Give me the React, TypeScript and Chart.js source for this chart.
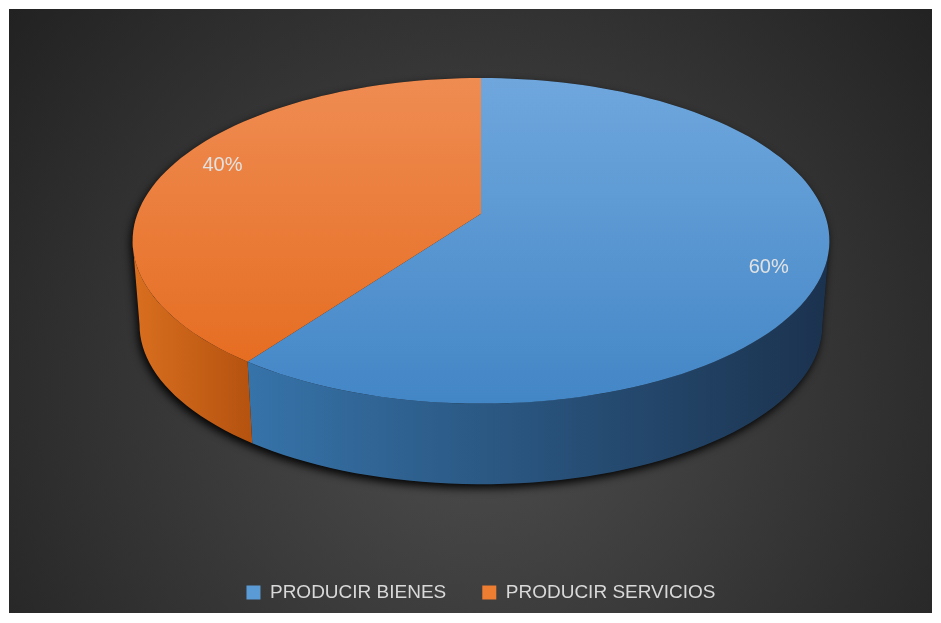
import React, { useEffect, useRef } from "react";
import { Chart, registerables } from "chart.js";
Chart.register(...registerables);

const categories = ["PRODUCIR BIENES", "PRODUCIR SERVICIOS"];
const values = [60, 40];
const valueLabels = ["60%", "40%"];
const legendColors = ["#5b9bd5", "#ed7d31"];
const topLight = ["#6fa7dd", "#ef8c52"];
const topDark = ["#4386c6", "#e4691b"];
const wallLeft = ["#3673a9", "#d96f1f"];
const wallRight = ["#1b324e", "#b4520f"];

// 3D view parameters (relative to the library's pie radius)
const PERSP = 0.1667;
const SX_R = 1.465;
const SY_R = 0.675;
const DEPTH_R = 0.36;
const BOTTOM_SCALE = 0.98;
const LABEL_F = 0.855;
const LABEL_TURN = 0.07;

const pie3d = {
  id: "pie3d",
  beforeDraw(chart: any) {
    const { ctx, width, height } = chart;
    ctx.save();
    ctx.fillStyle = "#ffffff";
    ctx.fillRect(0, 0, width, height);
    const g = ctx.createRadialGradient(470, 380, 0, 470, 380, 640);
    g.addColorStop(0, "#4e4e4e");
    g.addColorStop(1, "#1f1f1f");
    ctx.fillStyle = g;
    ctx.fillRect(1, 1, width - 2, height - 3);
    ctx.restore();
  },
  beforeDatasetsDraw(chart: any) {
    const { ctx } = chart;
    const meta = chart.getDatasetMeta(0);
    const arcs = meta.data;
    if (!arcs.length) return false;
    const R = arcs[0].outerRadius;
    const cx = arcs[0].x;
    const top = chart.chartArea.top;
    const SX = SX_R * R, SY = SY_R * R, D = DEPTH_R * R;
    const Y0 = top + SY / (1 + PERSP);
    const proj = (t: number, bottom: boolean, f = 1) => {
      const u = Math.cos(t) * f, v = Math.sin(t) * f;
      const w = 1 - PERSP * v;
      const s = bottom ? BOTTOM_SCALE : 1;
      const y0 = bottom ? Y0 + D : Y0;
      return [cx + (s * SX * u) / w, y0 + (s * SY * v) / w];
    };
    const N = 180;
    const thR = Math.asin(PERSP);
    const thL = Math.PI - thR;
    const arcPts = (a: number, b: number, bottom: boolean) => {
      const pts: number[][] = [];
      const n = Math.max(2, Math.ceil((Math.abs(b - a) / (2 * Math.PI)) * N));
      for (let i = 0; i <= n; i++) pts.push(proj(a + ((b - a) * i) / n, bottom));
      return pts;
    };
    const pathFrom = (pts: number[][], first: boolean) => {
      pts.forEach((p, i) => (i === 0 && first ? ctx.moveTo(p[0], p[1]) : ctx.lineTo(p[0], p[1])));
    };

    // shadow of the whole body
    ctx.save();
    ctx.shadowColor = "rgba(0,0,0,0.95)";
    ctx.shadowBlur = 9;
    ctx.shadowOffsetY = 4;
    ctx.shadowOffsetX = -2;
    ctx.fillStyle = "#151515";
    ctx.beginPath();
    pathFrom(arcPts(thL, thR + 2 * Math.PI, false), true);
    pathFrom(arcPts(thR, thL, true), false);
    ctx.closePath();
    ctx.fill();
    ctx.restore();

    // walls
    arcs.forEach((arc: any, i: number) => {
      const a = arc.startAngle, b = arc.endAngle;
      for (const k of [-1, 0, 1]) {
        const lo = Math.max(a, thR + k * 2 * Math.PI);
        const hi = Math.min(b, thL + k * 2 * Math.PI);
        if (hi <= lo) continue;
        const topPts = arcPts(lo, hi, false);
        const botPts = arcPts(lo, hi, true).reverse();
        const xs = topPts.concat(botPts).map((p) => p[0]);
        const x1 = Math.min(...xs);
        const x2 = Math.max(...xs);
        const g = ctx.createLinearGradient(x1, 0, x2, 0);
        g.addColorStop(0, wallLeft[i]);
        g.addColorStop(1, wallRight[i]);
        ctx.beginPath();
        pathFrom(topPts, true);
        pathFrom(botPts, false);
        ctx.closePath();
        ctx.fillStyle = g;
        ctx.fill();
      }
    });

    // top faces
    const yTop = proj(-Math.PI / 2, false)[1];
    const yBot = proj(Math.PI / 2, false)[1];
    arcs.forEach((arc: any, i: number) => {
      const g = ctx.createLinearGradient(0, yTop, 0, yBot);
      g.addColorStop(0, topLight[i]);
      g.addColorStop(1, topDark[i]);
      ctx.beginPath();
      ctx.moveTo(cx, Y0);
      pathFrom(arcPts(arc.startAngle, arc.endAngle, false), false);
      ctx.closePath();
      ctx.fillStyle = g;
      ctx.fill();
    });

    // data labels
    ctx.save();
    ctx.fillStyle = "#e2e2e2";
    ctx.font = "20px 'Liberation Sans', Arial, sans-serif";
    ctx.textAlign = "center";
    ctx.textBaseline = "middle";
    arcs.forEach((arc: any, i: number) => {
      const mid = (arc.startAngle + arc.endAngle) / 2 + LABEL_TURN;
      const p = proj(mid, false, LABEL_F);
      ctx.fillText(valueLabels[i], p[0], p[1]);
    });
    ctx.restore();
    return false;
  },
};

export default function App() {
  const ref = useRef<HTMLCanvasElement>(null);
  useEffect(() => {
    if (!ref.current) return;
    const chart = new Chart(ref.current, {
      type: "pie",
      data: {
        labels: categories,
        datasets: [
          {
            data: values,
            backgroundColor: legendColors,
            borderWidth: 0,
          },
        ],
      },
      options: {
        animation: false,
        responsive: true,
        maintainAspectRatio: false,
        layout: { padding: { top: 70, bottom: 3, left: 26, right: 5 } },
        plugins: {
          legend: {
            position: "bottom",
            labels: {
              boxWidth: 14,
              boxHeight: 14,
              padding: 36,
              color: "#d9d9d9",
              font: { size: 19, family: "'Liberation Sans', Arial, sans-serif" },
            },
          },
          tooltip: { enabled: false },
        },
      },
      plugins: [pie3d as any],
    });
    return () => chart.destroy();
  }, []);
  return (
    <div style={{ width: 925, height: 607, position: "relative" }}>
      <canvas ref={ref} />
    </div>
  );
}
